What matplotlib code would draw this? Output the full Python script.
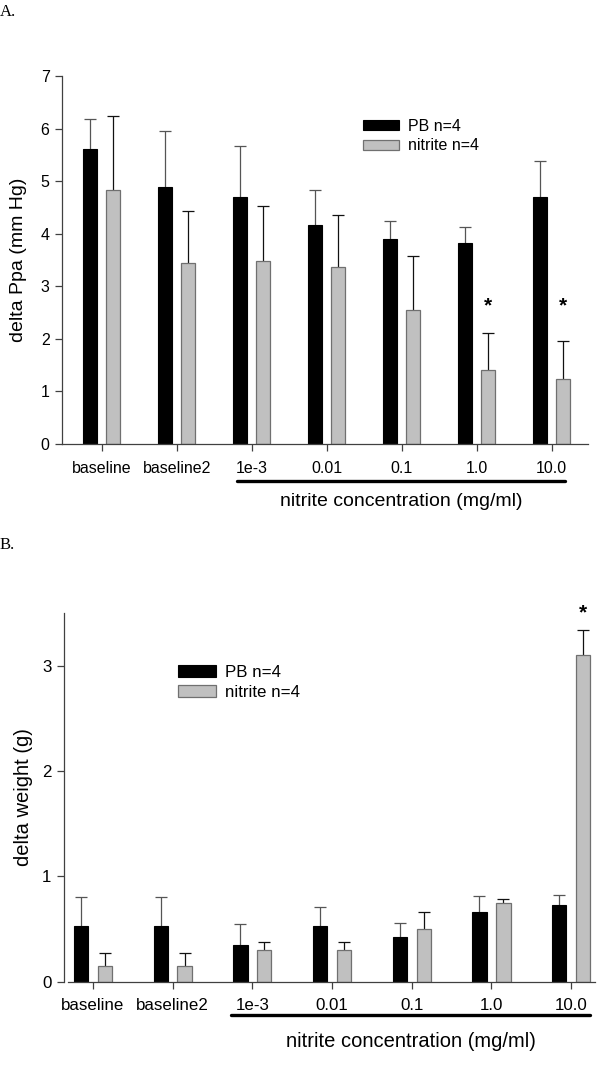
import matplotlib
matplotlib.use("Agg")
import matplotlib.pyplot as plt
import numpy as np

plt.rcParams['font.family'] = ['Liberation Sans', 'DejaVu Sans']

# ---------------- data ----------------
categories = ["baseline", "baseline2", "1e-3", "0.01", "0.1", "1.0", "10.0"]
series_names = ["PB n=4", "nitrite n=4"]

# Panel A: delta Ppa (mm Hg)
ppa_pb = [5.62, 4.89, 4.70, 4.17, 3.90, 3.83, 4.70]
ppa_pb_err = [0.56, 1.06, 0.96, 0.67, 0.35, 0.29, 0.68]
ppa_nit = [4.83, 3.44, 3.49, 3.37, 2.54, 1.40, 1.24]
ppa_nit_err = [1.40, 0.99, 1.04, 0.99, 1.04, 0.71, 0.71]
ppa_sig_idx = [5, 6]
ppa_sig_y = [2.62, 2.62]

# Panel B: delta weight (g)
wt_pb = [0.53, 0.53, 0.35, 0.53, 0.42, 0.665, 0.73]
wt_pb_err = [0.27, 0.27, 0.20, 0.18, 0.14, 0.145, 0.09]
wt_nit = [0.15, 0.15, 0.30, 0.30, 0.50, 0.75, 3.10]
wt_nit_err = [0.12, 0.12, 0.08, 0.08, 0.16, 0.035, 0.24]
wt_sig_idx = [6]
wt_sig_y = [3.50]

xlabel_text = "nitrite concentration (mg/ml)"

# ---------------- figure ----------------
fig = plt.figure(figsize=(6.0, 10.76), dpi=100)

BLACK = "#000000"
GRAY = "#c0c0c0"
GRAY_EDGE = "#707070"
AXC = "#404040"


def draw_panel(ax, pb, pb_err, nit, nit_err, sig_idx, sig_y, ylim, yticks,
               ylabel, width, off, xlim, fs_tick, fs_lab, leg_anchor,
               ul_range, ul_y, xlab_y, ylab_x, xaxis_start_gap=0.0):
    x = np.arange(len(categories))
    ax.bar(x - off, pb, width, color=BLACK, edgecolor=BLACK, linewidth=0.8,
           label=series_names[0], zorder=2)
    ax.bar(x + off, nit, width, color=GRAY, edgecolor=GRAY_EDGE, linewidth=0.9,
           label=series_names[1], zorder=2)
    for xs, v, e, c in [(x - off, pb, pb_err, "#555555"),
                        (x + off, nit, nit_err, "#111111")]:
        _, caps, _ = ax.errorbar(xs, v, yerr=[np.zeros(len(e)), e], fmt="none",
                                 ecolor=c, elinewidth=0.9, capsize=4,
                                 capthick=0.9, zorder=1)
        caps[0].set_visible(False)
    for i, yv in zip(sig_idx, sig_y):
        ax.text(i + off, yv, "*", ha="center", va="center", fontsize=15,
                fontweight="bold", clip_on=False)

    ax.set_xlim(*xlim)
    ax.set_ylim(*ylim)
    ax.set_yticks(yticks)
    ax.set_xticks(x)
    ax.set_xticklabels(categories)
    ax.tick_params(axis="both", labelsize=fs_tick, colors="#000000",
                   direction="out", length=5, width=0.9, color=AXC)
    ax.tick_params(axis="x", pad=7)
    ax.tick_params(axis="y", pad=4)
    for s in ["top", "right"]:
        ax.spines[s].set_visible(False)
    for s in ["left", "bottom"]:
        ax.spines[s].set_color(AXC)
        ax.spines[s].set_linewidth(0.9)
    ax.spines["bottom"].set_bounds(xlim[0] + xaxis_start_gap, xlim[1])
    ax.set_ylabel(ylabel, fontsize=fs_lab)
    ax.yaxis.set_label_coords(ylab_x, 0.5)

    # underline under concentration group
    ax.plot([ul_range[0], ul_range[1]], [ul_y, ul_y], color="black", lw=2.4,
            transform=ax.get_xaxis_transform(), clip_on=False,
            solid_capstyle="round")
    xm = (ul_range[0] + ul_range[1]) / 2.0
    ax.text(xm, xlab_y, xlabel_text, ha="center", va="center", fontsize=fs_lab,
            transform=ax.get_xaxis_transform())

    ax.legend(loc="upper left", bbox_to_anchor=leg_anchor, frameon=False,
              fontsize=fs_tick, handlelength=2.25, handleheight=0.65,
              handletextpad=0.55, labelspacing=0.3, borderpad=0,
              borderaxespad=0)
    return ax


# Panel A axes (pixel-based placement)
axA = fig.add_axes([62 / 600, 1 - 444 / 1076, (588 - 62) / 600, (444 - 76) / 1076])
draw_panel(axA, ppa_pb, ppa_pb_err, ppa_nit, ppa_nit_err, ppa_sig_idx, ppa_sig_y,
           ylim=(0, 7), yticks=range(0, 8), ylabel="delta Ppa (mm Hg)",
           width=0.187, off=0.15, xlim=(-0.529, 6.484), fs_tick=11.5, fs_lab=14,
           leg_anchor=(0.572, 0.884), ul_range=(1.80, 6.18), ul_y=-0.10,
           xlab_y=-0.156, ylab_x=-0.066)

# Panel B axes
axB = fig.add_axes([64 / 600, 1 - 981.7 / 1076, (595 - 64) / 600, (981.7 - 613.3) / 1076])
draw_panel(axB, wt_pb, wt_pb_err, wt_nit, wt_nit_err, wt_sig_idx, wt_sig_y,
           ylim=(0, 3.5), yticks=range(0, 4), ylabel="delta weight (g)",
           width=0.18, off=0.15, xlim=(-0.364, 6.30), fs_tick=12.2, fs_lab=14.5,
           leg_anchor=(0.2147, 0.860), ul_range=(1.73, 6.24), ul_y=-0.0904,
           xlab_y=-0.162, ylab_x=-0.058, xaxis_start_gap=0.05)

fig.text(0.0, 1 - 12 / 1076, "A.", family=["Liberation Serif", "DejaVu Serif"],
         fontsize=12, va="center", ha="left")
fig.text(0.0, 1 - 545 / 1076, "B.", family=["Liberation Serif", "DejaVu Serif"],
         fontsize=12, va="center", ha="left")

fig.savefig("out.png", dpi=100)
